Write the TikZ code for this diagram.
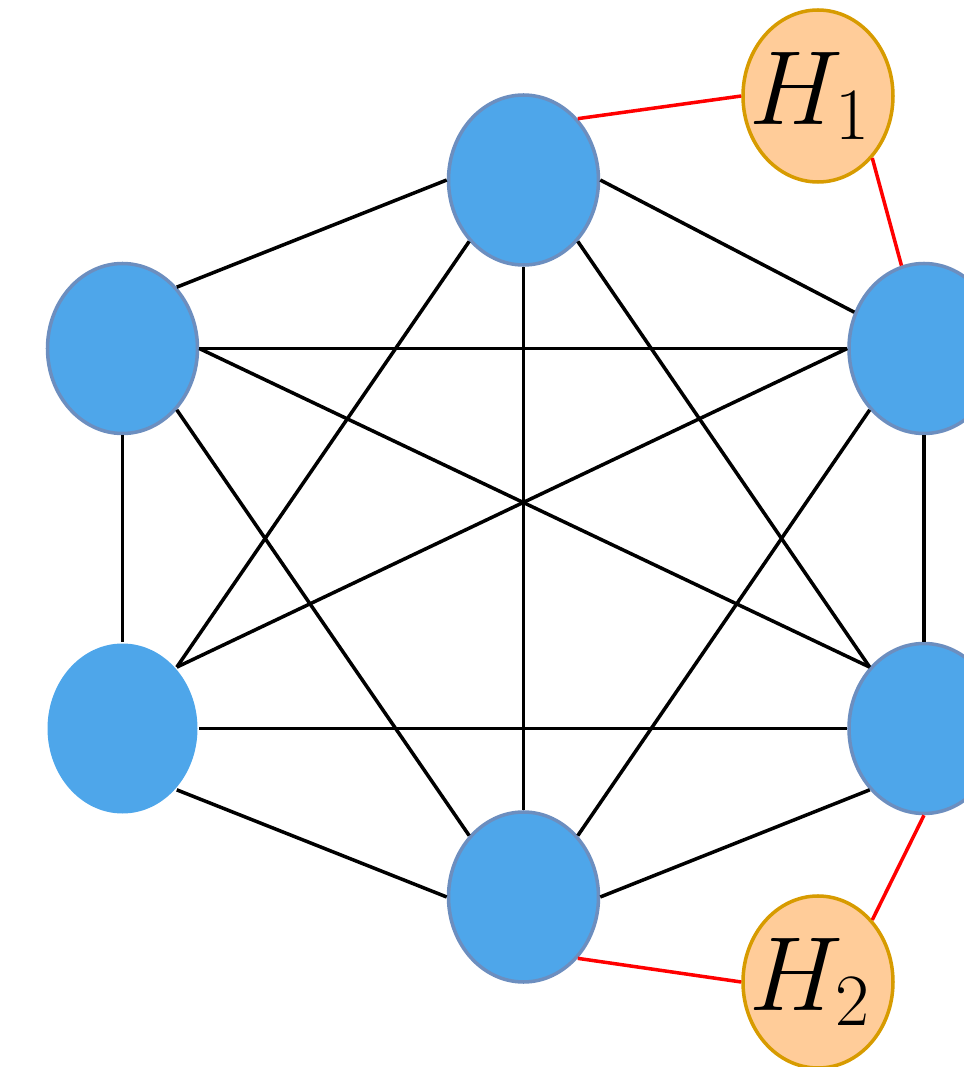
\documentclass[tikz,border=0pt]{standalone}
\usepackage{fix-cm}
\usepackage{amsmath}
\usetikzlibrary{shapes.geometric}

\definecolor{vblue}{HTML}{4EA6EA}
\definecolor{vrim}{HTML}{6C8EBF}
\definecolor{hfill}{HTML}{FFCC99}
\definecolor{hrim}{HTML}{D79B00}

\begin{document}
\begin{tikzpicture}[
  vertex/.style={ellipse, fill=vblue, draw=vrim, line width=1pt,
    minimum width=1.5cm, minimum height=1.7cm, inner sep=0pt},
  hnode/.style={ellipse, fill=hfill, draw=hrim, line width=1pt,
    minimum width=1.5cm, minimum height=1.72cm, inner sep=0pt,
    font=\fontsize{30}{36}\selectfont},
  link/.style={black, line width=1pt},
  hlink/.style={red, line width=1pt}]
  \useasboundingbox (0,0) rectangle (9.63,10.67);

  % Hexagon vertices
  \node[vertex] (top)  at (5.235, 8.87)  {};
  \node[vertex] (ltop) at (1.225, 7.185) {};
  \node[vertex, draw=none] (lbot) at (1.225, 3.385) {};
  \node[vertex] (bot)  at (5.235, 1.70)  {};
  \node[vertex] (rtop) at (9.24, 7.185)  {};
  \node[vertex] (rbot) at (9.24, 3.385)  {};

  % Extra nodes (zero-width box keeps the ellipse at its set size)
  \node[hnode] (h1) at (8.18, 9.71) {\makebox[0pt]{$H_1$\hspace{0.15cm}}};
  \node[hnode] (h2) at (8.18, 0.85) {\makebox[0pt]{$H_2$\hspace{0.15cm}}};

  % Edges from the top vertex
  \draw[link] (top.west) -- (ltop.north east);
  \draw[link] (top.east) -- (rtop);
  \draw[link] (top.south west) -- (lbot.north east);
  \draw[link] (top.south) -- (bot.north);
  \draw[link] (top.south east) -- (rbot.north west);

  % Edges from the left vertices
  \draw[link] (ltop.east) -- (rtop.west);
  \draw[link] (ltop.east) -- (rbot.north west);
  \draw[link] (ltop.south east) -- (bot.north west);
  \draw[link] (ltop.south) -- (lbot.north);
  \draw[link] (lbot.north east) -- (rtop.west);
  \draw[link] (lbot.east) -- (rbot.west);
  \draw[link] (lbot.south east) -- (bot.west);

  % Edges from the bottom and right vertices
  \draw[link] (bot.north east) -- (rtop.south west);
  \draw[link] (bot.east) -- (rbot.south west);
  \draw[link] (rtop.south) -- (rbot.north);

  % Red links to H_1 and H_2
  \draw[hlink] (top.north east) -- (h1.west);
  \draw[hlink] (h1.south east) -- (rtop);
  \draw[hlink] (bot.south east) -- (h2.west);
  \draw[hlink] (h2.north east) -- (rbot.south);
\end{tikzpicture}
\end{document}
